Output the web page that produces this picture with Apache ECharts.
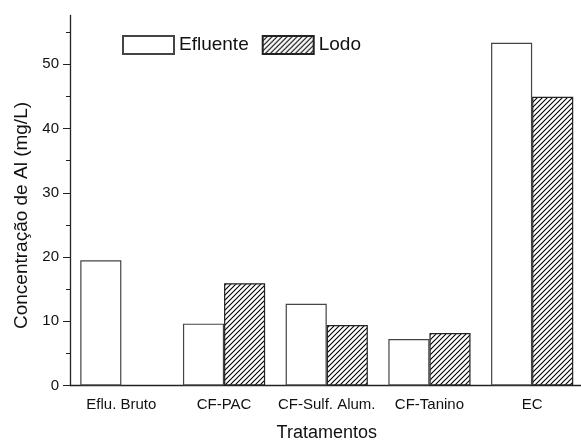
<!DOCTYPE html>
<html>
<head>
<meta charset="utf-8">
<script src="https://cdn.jsdelivr.net/npm/echarts@6/dist/echarts.min.js"></script>
<style>
html,body{margin:0;padding:0;background:#fff;}
#chart{width:581px;height:442px;}
</style>
</head>
<body>
<div id="chart"></div>
<script>
const categories = ['Eflu. Bruto', 'CF-PAC', 'CF-Sulf. Alum.', 'CF-Tanino', 'EC'];
const efluente = [19.5, 9.63, 12.73, 7.24, 53.35];
const lodo = [null, 15.92, 9.43, 8.18, 44.95];
const yMajorTicks = [0, 10, 20, 30, 40, 50];
const yMinorTicks = [5, 15, 25, 35, 45, 55];
const yMax = 57.6;

function makeHatch() {
  const s = 5;
  const c = document.createElement('canvas');
  c.width = s; c.height = s;
  const g = c.getContext('2d');
  g.fillStyle = '#fff';
  g.fillRect(0, 0, s, s);
  g.strokeStyle = '#000';
  g.lineWidth = 1.1;
  g.beginPath();
  g.moveTo(0, s); g.lineTo(s, 0);
  g.moveTo(-1, 1); g.lineTo(1, -1);
  g.moveTo(s - 1, s + 1); g.lineTo(s + 1, s - 1);
  g.stroke();
  return c;
}

const font = "'Liberation Sans', Arial, sans-serif";
const chart = echarts.init(document.getElementById('chart'));
chart.setOption({
  animation: false,
  backgroundColor: '#fff',
  textStyle: { fontFamily: font },
  grid: { left: 70, right: -2.5, top: 15.5, bottom: 56.5, outerBoundsMode: 'none', containLabel: false },
  legend: {
    left: 117, top: 30,
    padding: 5,
    icon: 'rect',
    itemWidth: 51, itemHeight: 18, itemGap: 13,
    textStyle: { fontSize: 19, color: '#111', fontFamily: font },
    data: ['Efluente', 'Lodo']
  },
  xAxis: [{
    type: 'category',
    data: categories,
    boundaryGap: true,
    name: 'Tratamentos',
    nameLocation: 'middle',
    nameGap: 39,
    nameTextStyle: { fontSize: 18, color: '#111', fontFamily: font },
    axisLine: { lineStyle: { color: '#222', width: 1.3 } },
    axisTick: { alignWithLabel: true, length: 7, lineStyle: { color: '#222', width: 1 } },
    axisLabel: { fontSize: 15, color: '#111', margin: 12, fontFamily: font, interval: 0 },
    splitLine: { show: false }
  }, {
    type: 'category',
    data: categories,
    boundaryGap: true,
    position: 'bottom',
    axisLine: { show: false },
    axisTick: { alignWithLabel: false, length: 3.5, lineStyle: { color: '#222', width: 1 } },
    axisLabel: { show: false },
    splitLine: { show: false }
  }],
  yAxis: [{
    type: 'value',
    min: 0, max: yMax,
    position: 'left',
    name: 'Concentração de Al (mg/L)',
    nameLocation: 'middle',
    nameGap: 39,
    nameTextStyle: { fontSize: 19, color: '#111', fontFamily: font, padding: [0, 30, 0, 0] },
    axisLine: { show: true, lineStyle: { color: '#222', width: 1.3 } },
    axisTick: { show: true, length: 7, customValues: yMajorTicks, lineStyle: { color: '#222', width: 1 } },
    axisLabel: { fontSize: 15, color: '#111', margin: 11, customValues: yMajorTicks, fontFamily: font },
    splitLine: { show: false }
  }, {
    type: 'value',
    min: 0, max: yMax,
    position: 'left',
    offset: 0,
    axisLine: { show: false },
    axisTick: { show: true, length: 4, customValues: yMinorTicks, lineStyle: { color: '#222', width: 1 } },
    axisLabel: { show: false },
    splitLine: { show: false }
  }],
  series: [{
    name: 'Efluente',
    type: 'bar',
    xAxisIndex: 0, yAxisIndex: 0,
    data: efluente,
    barWidth: '40%',
    barGap: '0%',
    itemStyle: { color: '#fff', borderColor: '#444', borderWidth: 1.2 }
  }, {
    name: 'Lodo',
    type: 'bar',
    xAxisIndex: 0, yAxisIndex: 0,
    data: lodo,
    barWidth: '40%',
    barGap: '0%',
    itemStyle: { color: { image: makeHatch(), repeat: 'repeat' }, borderColor: '#222', borderWidth: 1.2 }
  }]
});
</script>
</body>
</html>
